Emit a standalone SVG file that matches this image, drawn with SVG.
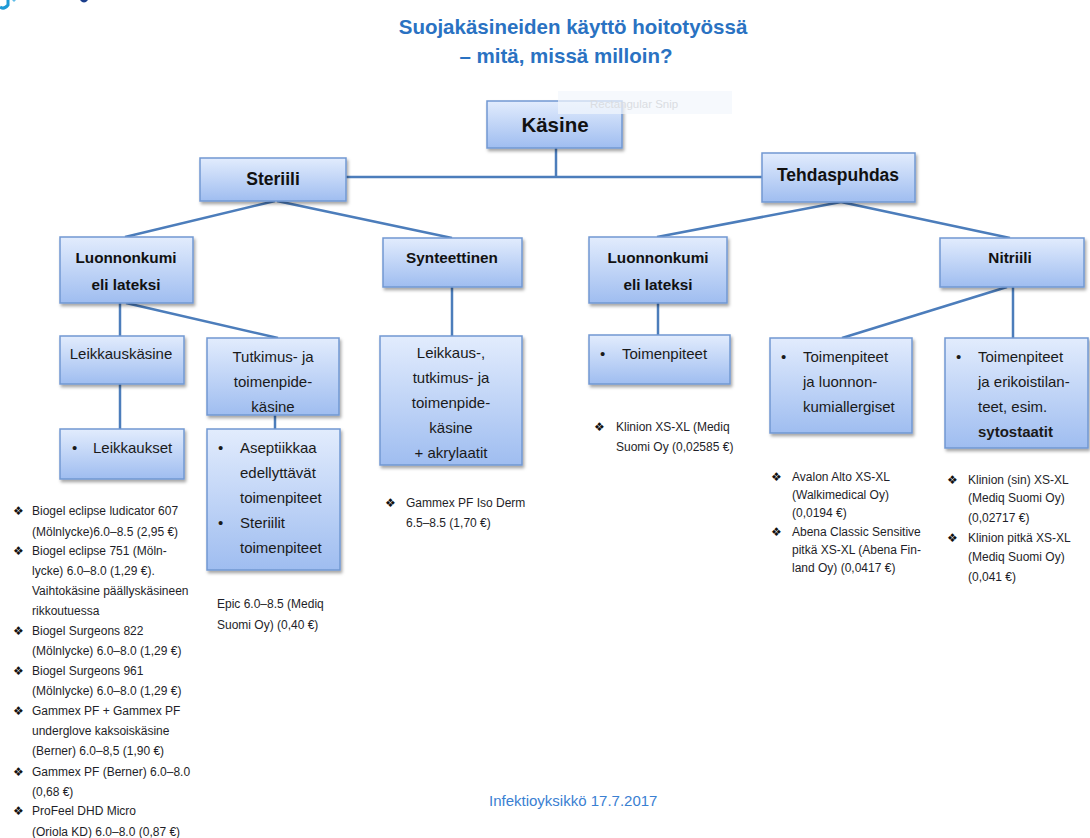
<svg xmlns="http://www.w3.org/2000/svg" width="1090" height="838" viewBox="0 0 1090 838">
<defs>
<linearGradient id="bg" x1="0" y1="0" x2="0" y2="1">
<stop offset="0" stop-color="#e2ecfd"/>
<stop offset="1" stop-color="#9fbdf0"/>
</linearGradient>
<filter id="sh" x="-10%" y="-10%" width="130%" height="140%">
<feDropShadow dx="1.5" dy="2.5" stdDeviation="1.5" flood-color="#000" flood-opacity="0.35"/>
</filter>
<clipPath id="c1"><rect x="207" y="338" width="132" height="75"/></clipPath>
<clipPath id="c2"><rect x="380" y="336" width="142" height="126"/></clipPath>
</defs>
<style>
.box{fill:url(#bg);stroke:#7198d2;stroke-width:1.5;filter:url(#sh)}
.con{stroke:#4c7dbb;stroke-width:2.5;fill:none}
text{font-family:"Liberation Sans",Arial,sans-serif}
.title{font-size:20.5px;font-weight:bold;fill:#2a72c2;text-anchor:middle}
.lb{font-weight:bold;fill:#111;text-anchor:middle}
.bt{font-size:15px;fill:#1a1a1a}
.mid{text-anchor:middle}
.ls{font-size:12px;fill:#1e1e28}
.dm{font-family:"DejaVu Sans",sans-serif;font-size:12px;fill:#111}
</style>
<rect width="1090" height="838" fill="#fff"/>
<!-- logo fragment -->
<path d="M0 7 Q4 10 8 5 L8 0" stroke="#1e9ad6" stroke-width="3" fill="none"/>
<path d="M12 0 L16 0 L14 2 Z" fill="#63bde8"/>
<path d="M80 0 Q84 5 88 0 Z" fill="#1b3e8c"/>
<!-- title -->
<text class="title" x="573" y="34">Suojakäsineiden käyttö hoitotyössä</text>
<text class="title" x="566" y="63">– mitä, missä milloin?</text>
<!-- connectors -->
<g id="connectors">
<path class="con" d="M556 148 V177"/>
<path class="con" d="M346 177 H762"/>
<path class="con" d="M275 201 L125 237"/>
<path class="con" d="M277 201 L452 238"/>
<path class="con" d="M841 202 L657 237"/>
<path class="con" d="M841 202 L1010 238"/>
<path class="con" d="M120 303 V336"/>
<path class="con" d="M126 303 L278 338"/>
<path class="con" d="M120 384 V429"/>
<path class="con" d="M275 415 V429"/>
<path class="con" d="M452 287 V336"/>
<path class="con" d="M658 303 V335"/>
<path class="con" d="M1007 287 L842 338"/>
<path class="con" d="M1013 287 V338"/>
</g>
<g id="kasine">
<rect class="box" x="487" y="101" width="135" height="47"/>
<text class="lb" x="555" y="132" font-size="20.5">Käsine</text>
</g>
<!-- snip artefact over the top box -->
<rect x="558" y="91" width="174" height="23" fill="#f2f6fc" fill-opacity="0.7"/>
<text x="590" y="108" font-size="11.5" fill="#dadde2">Rectangular Snip</text>
<g id="steriili">
<rect class="box" x="200" y="158" width="146" height="43"/>
<text class="lb" x="273" y="185" font-size="17.5">Steriili</text>
</g>
<g id="tehdaspuhdas">
<rect class="box" x="762" y="153" width="153" height="49"/>
<text class="lb" x="838" y="181" font-size="17.5">Tehdaspuhdas</text>
</g>
<g id="luonnonkumi1">
<rect class="box" x="60" y="237" width="133" height="66"/>
<text class="lb" x="126" y="263" font-size="15.3">Luonnonkumi</text>
<text class="lb" x="126" y="290" font-size="15.3">eli lateksi</text>
</g>
<g id="synteettinen">
<rect class="box" x="383" y="238" width="139" height="49"/>
<text class="lb" x="452" y="263" font-size="15.3">Synteettinen</text>
</g>
<g id="luonnonkumi2">
<rect class="box" x="589" y="237" width="138" height="66"/>
<text class="lb" x="658" y="263" font-size="15.3">Luonnonkumi</text>
<text class="lb" x="658" y="290" font-size="15.3">eli lateksi</text>
</g>
<g id="nitriili">
<rect class="box" x="940" y="238" width="144" height="49"/>
<text class="lb" x="1010" y="263" font-size="15.3">Nitriili</text>
</g>
<g id="leikkauskasine">
<rect class="box" x="60" y="336" width="124" height="48"/>
<text class="bt mid" x="121" y="359" font-size="14.3">Leikkauskäsine</text>
</g>
<g id="tutkimus">
<rect class="box" x="207" y="338" width="132" height="77"/>
<g clip-path="url(#c1)">
<text class="bt mid" x="273" y="362">Tutkimus- ja</text>
<text class="bt mid" x="273" y="387">toimenpide-</text>
<text class="bt mid" x="273" y="412">käsine</text>
</g>
</g>
<g id="leikkaukset">
<rect class="box" x="60" y="429" width="124" height="50"/>
<text class="bt" x="72" y="453">•</text>
<text class="bt" x="93" y="453">Leikkaukset</text>
</g>
<g id="aseptiikkaa">
<rect class="box" x="207" y="429" width="133" height="141"/>
<text class="bt" x="218" y="453">•</text>
<text class="bt" x="240" y="453">Aseptiikkaa</text>
<text class="bt" x="240" y="478">edellyttävät</text>
<text class="bt" x="240" y="503">toimenpiteet</text>
<text class="bt" x="218" y="528">•</text>
<text class="bt" x="240" y="528">Steriilit</text>
<text class="bt" x="240" y="553">toimenpiteet</text>
</g>
<g id="leikkaus">
<rect class="box" x="380" y="336" width="142" height="129"/>
<g clip-path="url(#c2)">
<text class="bt mid" x="451" y="358">Leikkaus-,</text>
<text class="bt mid" x="451" y="383">tutkimus- ja</text>
<text class="bt mid" x="451" y="408">toimenpide-</text>
<text class="bt mid" x="451" y="433">käsine</text>
<text class="bt mid" x="451" y="458">+ akrylaatit</text>
</g>
</g>
<g id="toimenpiteet1">
<rect class="box" x="589" y="335" width="141" height="49"/>
<text class="bt" x="600" y="359">•</text>
<text class="bt" x="622" y="359">Toimenpiteet</text>
</g>
<g id="toimenpiteet2">
<rect class="box" x="770" y="338" width="142" height="95"/>
<text class="bt" x="781" y="362">•</text>
<text class="bt" x="803" y="362">Toimenpiteet</text>
<text class="bt" x="803" y="387">ja luonnon-</text>
<text class="bt" x="803" y="412">kumiallergiset</text>
</g>
<g id="toimenpiteet3">
<rect class="box" x="945" y="338" width="143" height="110"/>
<text class="bt" x="956" y="362">•</text>
<text class="bt" x="978" y="362">Toimenpiteet</text>
<text class="bt" x="978" y="387">ja erikoistilan-</text>
<text class="bt" x="978" y="412">teet, esim.</text>
<text class="bt" x="978" y="437" font-weight="bold">sytostaatit</text>
</g>
<!-- product lists -->
<g id="list-leikkaus">
<text class="dm" x="13" y="515">❖</text><text class="ls" x="32" y="515">Biogel eclipse ludicator 607</text>
<text class="ls" x="32" y="536">(Mölnlycke)6.0–8.5 (2,95 €)</text>
<text class="dm" x="13" y="555">❖</text><text class="ls" x="32" y="555">Biogel eclipse 751 (Möln-</text>
<text class="ls" x="32" y="575">lycke) 6.0–8.0 (1,29 €).</text>
<text class="ls" x="32" y="595">Vaihtokäsine päällyskäsineen</text>
<text class="ls" x="32" y="615">rikkoutuessa</text>
<text class="dm" x="13" y="635">❖</text><text class="ls" x="32" y="635">Biogel Surgeons 822</text>
<text class="ls" x="32" y="655">(Mölnlycke) 6.0–8.0 (1,29 €)</text>
<text class="dm" x="13" y="675">❖</text><text class="ls" x="32" y="675">Biogel Surgeons 961</text>
<text class="ls" x="32" y="695">(Mölnlycke) 6.0–8.0 (1,29 €)</text>
<text class="dm" x="13" y="715">❖</text><text class="ls" x="32" y="715">Gammex PF + Gammex PF</text>
<text class="ls" x="32" y="735">underglove kaksoiskäsine</text>
<text class="ls" x="32" y="755">(Berner) 6.0–8,5 (1,90 €)</text>
<text class="dm" x="13" y="776">❖</text><text class="ls" x="32" y="776">Gammex PF (Berner) 6.0–8.0</text>
<text class="ls" x="32" y="796">(0,68 €)</text>
<text class="dm" x="13" y="815">❖</text><text class="ls" x="32" y="815">ProFeel DHD Micro</text>
<text class="ls" x="32" y="836">(Oriola KD) 6.0–8.0 (0,87 €)</text>
</g>
<g id="list-epic">
<text class="ls" x="217" y="608">Epic 6.0–8.5 (Mediq</text>
<text class="ls" x="217" y="629">Suomi Oy) (0,40 €)</text>
</g>
<g id="list-gammex">
<text class="dm" x="385" y="507">❖</text><text class="ls" x="406" y="507">Gammex PF Iso Derm</text>
<text class="ls" x="406" y="527">6.5–8.5 (1,70 €)</text>
</g>
<g id="list-klinion1">
<text class="dm" x="594" y="431">❖</text><text class="ls" x="616" y="431">Klinion XS-XL (Mediq</text>
<text class="ls" x="616" y="451">Suomi Oy (0,02585 €)</text>
</g>
<g id="list-avalon">
<text class="dm" x="771" y="481">❖</text><text class="ls" x="792" y="481">Avalon Alto XS-XL</text>
<text class="ls" x="792" y="499">(Walkimedical Oy)</text>
<text class="ls" x="792" y="517">(0,0194 €)</text>
<text class="dm" x="771" y="536">❖</text><text class="ls" x="792" y="536">Abena Classic Sensitive</text>
<text class="ls" x="792" y="554">pitkä XS-XL (Abena Fin-</text>
<text class="ls" x="792" y="572">land Oy) (0,0417 €)</text>
</g>
<g id="list-klinion2">
<text class="dm" x="947" y="484">❖</text><text class="ls" x="968" y="484">Klinion (sin) XS-XL</text>
<text class="ls" x="968" y="502">(Mediq Suomi Oy)</text>
<text class="ls" x="968" y="522">(0,02717 €)</text>
<text class="dm" x="947" y="542">❖</text><text class="ls" x="968" y="542">Klinion pitkä XS-XL</text>
<text class="ls" x="968" y="561">(Mediq Suomi Oy)</text>
<text class="ls" x="968" y="581">(0,041 €)</text>
</g>
<text x="489" y="806" font-size="15" fill="#3a80d2">Infektioyksikkö 17.7.2017</text>
</svg>
